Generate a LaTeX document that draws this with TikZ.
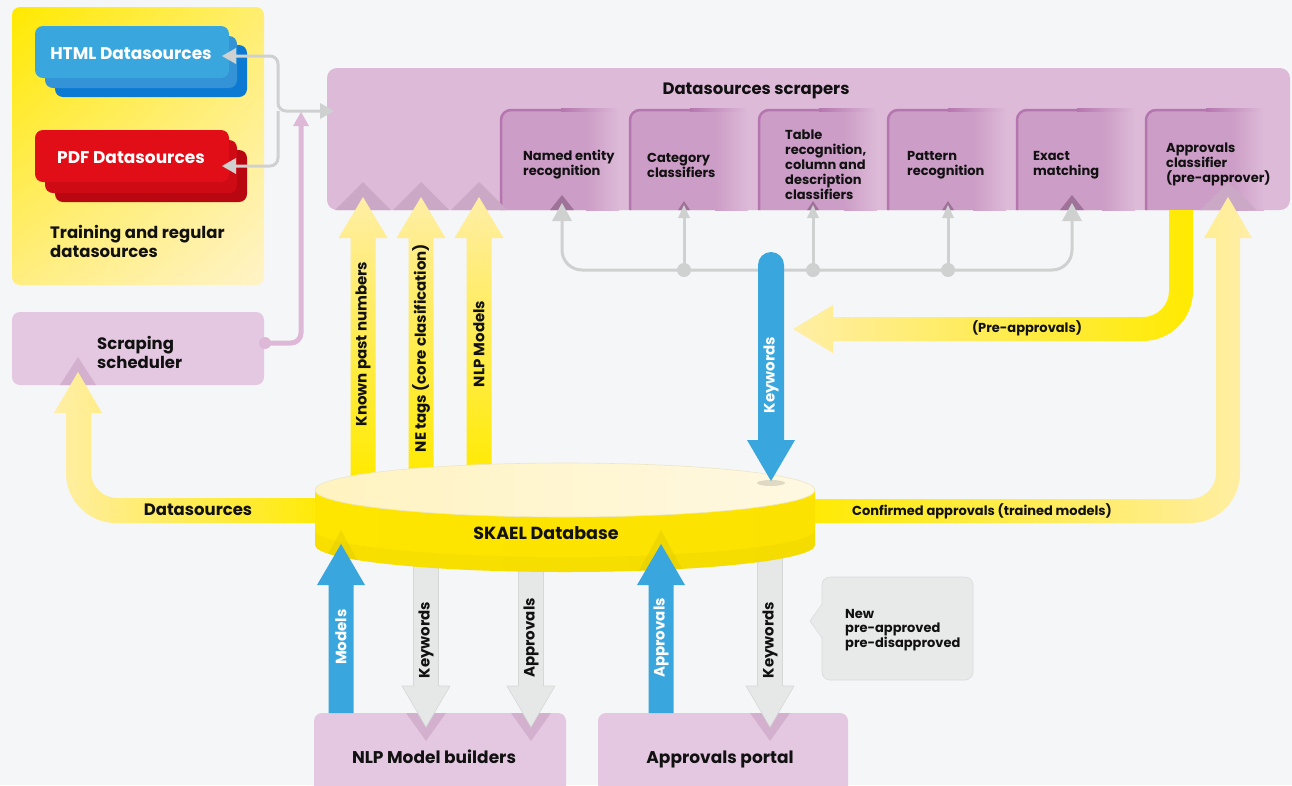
\documentclass[tikz,border=0pt]{standalone}
\usepackage{fontspec}
\setmainfont{Poppins}
\usetikzlibrary{shadings}
\definecolor{bg}{HTML}{F5F6F8}
\definecolor{ypA}{HTML}{FFE900}
\definecolor{ypB}{HTML}{FFEE70}
\definecolor{ypC}{HTML}{FFEE80}
\definecolor{ypD}{HTML}{FFF3C8}
\definecolor{htmlA}{HTML}{3AA6DE}
\definecolor{htmlB}{HTML}{3393D6}
\definecolor{htmlC}{HTML}{0C79D2}
\definecolor{pdfA}{HTML}{E20E17}
\definecolor{pdfB}{HTML}{CE0B15}
\definecolor{pdfC}{HTML}{B80711}
\definecolor{scrap}{HTML}{DDBAD8}
\definecolor{innerDark}{HTML}{CC9DC6}
\definecolor{innerBorder}{HTML}{B576AF}
\definecolor{sched}{HTML}{E4C8E1}
\definecolor{pinkline}{HTML}{DDB8D7}
\definecolor{pinkShadow}{HTML}{CCA8C7}
\definecolor{boxShadow}{HTML}{D3B1CE}
\definecolor{treeShadow}{HTML}{9F7299}
\definecolor{gline}{HTML}{CFD1D1}
\definecolor{garrow}{HTML}{E6E7E7}
\definecolor{garrowB}{HTML}{D6D8D8}
\definecolor{blueA}{HTML}{39A7DE}
\definecolor{yBright}{HTML}{FFEA00}
\definecolor{yPale}{HTML}{FFEEA6}
\definecolor{yMid}{HTML}{FFEC80}
\definecolor{dbL}{HTML}{FFE600}
\definecolor{dbM}{HTML}{FFF3A8}
\definecolor{dbR}{HTML}{FBE200}
\definecolor{dbTopA}{HTML}{FFF3C0}
\definecolor{dbTopB}{HTML}{FFF8E2}
\definecolor{dbEdge}{HTML}{ECE6C8}
\definecolor{dbShadow}{HTML}{D9C400}
\definecolor{noteC}{HTML}{E8E9E9}
\definecolor{noteB}{HTML}{D9DBDB}
\definecolor{ink}{HTML}{111111}
\tikzset{
  bigf/.style={text=ink, font=\fontsize{16.5}{19}\selectfont\bfseries, inner sep=0pt},
  lbl/.style={bigf, text height=11.5pt, text depth=0pt},
  smf/.style={text=ink, font=\fontsize{13}{15}\selectfont\bfseries, inner sep=0pt, align=left},
  sml/.style={smf, text height=9pt, text depth=0pt},
  vlbl/.style={text=ink, font=\fontsize{15}{18}\selectfont\bfseries, inner sep=0pt, rotate=90},
  glin/.style={draw=gline, line width=3pt},
  plainbox/.style={fill=sched, rounded corners=8pt, inner sep=0pt},
}
\newcommand\upFat[5]{({#1-#4},#2) -- ({#1-#4},{#3+41}) -- ({#1-#5},{#3+41}) -- (#1,#3) -- ({#1+#5},{#3+41}) -- ({#1+#4},{#3+41}) -- ({#1+#4},#2) -- cycle}
\newcommand\downFat[5]{({#1-#4},#2) -- ({#1-#4},{#3-41}) -- ({#1-#5},{#3-41}) -- (#1,#3) -- ({#1+#5},{#3-41}) -- ({#1+#4},{#3-41}) -- ({#1+#4},#2) -- cycle}
\newcommand\innerBx[1]{%
  \fill[innerDark] (#1,210) -- (#1,120) arc[start angle=180,end angle=90,radius=10pt] -- ({#1+85},110) -- ({#1+85},210) -- cycle;
  \shade[left color=innerDark, right color=scrap] ({#1+85},110) rectangle ({#1+118},210);
  \draw[innerBorder, line width=2.5pt] (#1,210) -- (#1,120) arc[start angle=180,end angle=90,radius=10pt] -- ({#1+60},110);
  \shade[left color=innerBorder, right color=scrap] ({#1+60},108.75) rectangle ({#1+118},111.25);
}
\begin{document}
\begin{tikzpicture}[x=1pt,y=-1pt]
\useasboundingbox (0,0) rectangle (1292,785);
\clip (0,0) rectangle (1292,785);
\fill[bg] (0,0) rectangle (1292,785);

% ---------- left yellow panel ----------
\shade[rounded corners=8pt, upper left=ypA, upper right=ypB, lower left=ypC, lower right=ypD] (12,7) rectangle (264,285);
\fill[htmlC, rounded corners=8pt] (55,45) rectangle (247,97);
\fill[htmlB, rounded corners=8pt] (45,36) rectangle (237,88);
\node[fill=htmlA, rounded corners=8pt, minimum width=194pt, minimum height=52pt, inner sep=0pt] (html) at (132,52) {};
\node[lbl, text=white, font=\fontsize{17}{19}\selectfont\bfseries] (htmltxt) at (131,54) {HTML Datasources};
\fill[pdfC, rounded corners=8pt] (55,150) rectangle (247,202);
\fill[pdfB, rounded corners=8pt] (45,140) rectangle (237,193);
\node[fill=pdfA, rounded corners=8pt, minimum width=194pt, minimum height=52pt, inner sep=0pt] (pdf) at (132,156) {};
\node[lbl, text=white, font=\fontsize{17}{19}\selectfont\bfseries] (pdftxt) at (131,158) {PDF Datasources};
\node[bigf, anchor=west, align=left] (train) at (50,241) {Training and regular\\datasources};

% ---------- scrapers ----------
\node[fill=scrap, rounded corners=10pt, minimum width=963pt, minimum height=142pt, inner sep=0pt] (scr) at (808.5,139) {};
\node[lbl] (scrtitle) at (756,89) {Datasources scrapers};
\innerBx{501}\innerBx{630}\innerBx{759}\innerBx{888}\innerBx{1017}\innerBx{1146}
\node[smf, anchor=west] (ner) at (523,165) {Named entity\\recognition};
\node[smf, anchor=west] (cat) at (647,165) {Category\\classifiers};
\node[smf, anchor=west] (tab) at (785,165) {Table\\recognition,\\column and\\description\\classifiers};
\node[smf, anchor=west] (pat) at (907,165) {Pattern\\recognition};
\node[smf, anchor=west] (exa) at (1033,165) {Exact\\matching};
\node[smf, anchor=west] (apc) at (1166,164) {Approvals\\classifier\\(pre-approver)};

% ---------- gray connectors from datasources ----------
\coordinate (hA) at (233,56);
\coordinate (pA) at (233,166);
\coordinate (mj) at (278,111);
\coordinate (sA) at (322,111);
\draw[glin, rounded corners=8pt] (hA) -| (mj) -- (sA);
\draw[glin, rounded corners=8pt] (pA) -| (mj);
\fill[gline] (222,56) -- (236,48) -- (236,64) -- cycle;
\fill[gline] (222,166) -- (236,158) -- (236,174) -- cycle;
\fill[gline] (334,111) -- (320,103) -- (320,119) -- cycle;

% ---------- scheduler ----------
\node[plainbox, minimum width=252pt, minimum height=73pt] (sched) at (138,348.5) {};
\node[bigf, anchor=west, align=left] (schedtxt) at (97,352) {Scraping\\scheduler};
\coordinate (pdot) at (265,343);
\coordinate (ptop) at (301,124);
\draw[pinkline, line width=5pt, rounded corners=10pt] (pdot) -| (ptop);
\fill[pinkline] (pdot) circle (6pt);
\fill[pinkline] (301,112) -- (309,126) -- (293,126) -- cycle;

% ---------- tree connector ----------
\coordinate (tL) at (562,214);
\coordinate (tR) at (1072,214);
\coordinate (tB) at (1072,270);
\draw[glin, rounded corners=20pt] (tL) |- (tB) -- (tR);
\foreach \x in {684,813,948}{
  \draw[glin] (\x,270) -- (\x,214);
  \fill[gline] (\x,270) circle (7pt);
  \fill[treeShadow] ({\x-6},210) -- (\x,201) -- ({\x+6},210) -- cycle;
  \fill[gline] ({\x-6},218) -- (\x,205) -- ({\x+6},218) -- cycle;
}
\foreach \x in {562,1072}{
  \fill[treeShadow] ({\x-12},210) -- (\x,195) -- ({\x+12},210) -- cycle;
  \fill[gline] ({\x-10},221) -- (\x,203) -- ({\x+10},221) -- cycle;
}

% ---------- yellow up arrows into scrapers ----------
\foreach \x in {363,421,479,1228}{
  \fill[pinkShadow] ({\x-28},210) -- (\x,182) -- ({\x+28},210) -- cycle;
}
\foreach \x in {363,421,479}{
  \shade[top color=yPale, middle color=yMid, bottom color=yBright] \upFat{\x}{478}{197}{12.5}{24.5};
}
\node[vlbl] (kpn) at (363,344) {Known past numbers};
\node[vlbl] (net) at (421,348) {NE tags (core clasification)};
\node[vlbl] (nlpm) at (479,344) {NLP Models};

% ---------- Datasources band (DB -> scheduler) ----------
\fill[boxShadow] (60,385) -- (78,357) -- (96,385) -- cycle;
\shade[left color=yPale, right color=yBright]
  (330,498) -- (117,498) arc[start angle=-90,end angle=-180,radius=26pt] -- (91,413) -- (102,413) -- (78,372) -- (54,413) -- (66,413) -- (66,473)
  arc[start angle=180,end angle=270,radius=50pt] -- (330,523) -- cycle;
\node[lbl] (dstxt) at (198,510) {Datasources};

% ---------- Confirmed approvals band (DB -> scrapers) ----------
\shade[left color=yBright, right color=yPale]
  (800,499) -- (1190,499) arc[start angle=270,end angle=360,radius=26pt] -- (1216,238) -- (1204,238) -- (1228,197) -- (1252,238) -- (1240,238) -- (1240,473)
  arc[start angle=0,end angle=-90,radius=50pt] -- (800,523) -- cycle;
\node[sml] (conf) at (982,511) {Confirmed approvals (trained models)};

% ---------- Pre-approvals band ----------
\shade[left color=yPale, right color=yBright]
  (1169,210) -- (1169,291) arc[start angle=0,end angle=-90,radius=26pt] -- (833,317) -- (833,305) -- (793,329) -- (833,353) -- (833,341) -- (1143,341)
  arc[start angle=-90,end angle=0,radius=50pt] -- (1193,210) -- cycle;
\node[sml] (preap) at (1027,328) {(Pre-approvals)};

% ---------- bottom boxes ----------
\node[plainbox, minimum width=252pt, minimum height=90pt] (nlpb) at (440,758) {};
\node[lbl, font=\fontsize{17}{19}\selectfont\bfseries] (nlpbtxt) at (434,758) {NLP Model builders};
\node[plainbox, minimum width=250pt, minimum height=90pt] (portal) at (723,758) {};
\node[lbl, font=\fontsize{17}{19}\selectfont\bfseries] (portaltxt) at (720,758) {Approvals portal};

% gray down arrows (DB -> boxes)
\foreach \x in {426,531,770}{
  \fill[boxShadow] ({\x-20},713) -- (\x,741) -- ({\x+20},713) -- cycle;
  \filldraw[fill=garrow, draw=garrowB, line width=0.6pt] \downFat{\x}{555}{727}{12.5}{24};
}

% ---------- database ----------
\shade[left color=dbL, middle color=dbM, right color=dbR]
  (315,490) -- (315,545) arc[start angle=180,end angle=360,x radius=250pt,y radius=27pt] -- (815,490) -- cycle;
\fill[dbShadow, opacity=0.18] (315,530) arc[start angle=180,end angle=360,x radius=250pt,y radius=27pt] -- (815,545) arc[start angle=360,end angle=180,x radius=250pt,y radius=27pt] -- cycle;
\begin{scope}
  \clip (315,490) -- (315,545) arc[start angle=180,end angle=360,x radius=250pt,y radius=27pt] -- (815,490) -- cycle;
  \foreach \x in {341,661}{
    \fill[dbShadow, opacity=0.35] ({\x-27},580) -- (\x,530) -- ({\x+27},580) -- cycle;
  }
\end{scope}
\shade[left color=dbTopA, right color=dbTopB, draw=dbEdge, line width=0.6pt] (565,490) ellipse[x radius=250pt, y radius=27pt];
\node[lbl, font=\fontsize{17.5}{19}\selectfont\bfseries] (db) at (546,534) {SKAEL Database};

% blue arrows up (boxes -> DB)
\foreach \x in {341,661}{
  \fill[blueA] \upFat{\x}{713}{544}{12.5}{24};
}
\node[vlbl, text=white] (modl) at (341,637) {Models};
\node[vlbl] (kw1) at (426,640) {Keywords};
\node[vlbl] (ap1) at (531,638) {Approvals};
\node[vlbl, text=white] (ap2) at (661,638) {Approvals};
\node[vlbl] (kw2) at (770,640) {Keywords};

% ---------- blue Keywords arrow (scrapers tree -> DB) ----------
\fill[black, opacity=0.12] (771,483) ellipse[x radius=14pt, y radius=3pt];
\fill[blueA] (758,440) -- (758,265) arc[start angle=180,end angle=0,radius=13pt] -- (784,440) -- (795,440) -- (771,481) -- (747,440) -- cycle;
\node[vlbl, text=white] (kw3) at (771,375) {Keywords};

% ---------- note ----------
\node[fill=noteC, draw=noteB, line width=0.6pt, rounded corners=8pt, minimum width=151pt, minimum height=103pt, inner sep=0pt] (note) at (897.5,628.5) {};
\fill[noteC] (823,604) -- (810,621) -- (823,638) -- cycle;
\draw[noteB, line width=0.6pt] (822,604) -- (810,621) -- (822,638);
\node[smf, anchor=west, font=\fontsize{13}{14.5}\selectfont\bfseries] (notetxt) at (845,630) {New\\pre-approved\\pre-disapproved};
\end{tikzpicture}
\end{document}
